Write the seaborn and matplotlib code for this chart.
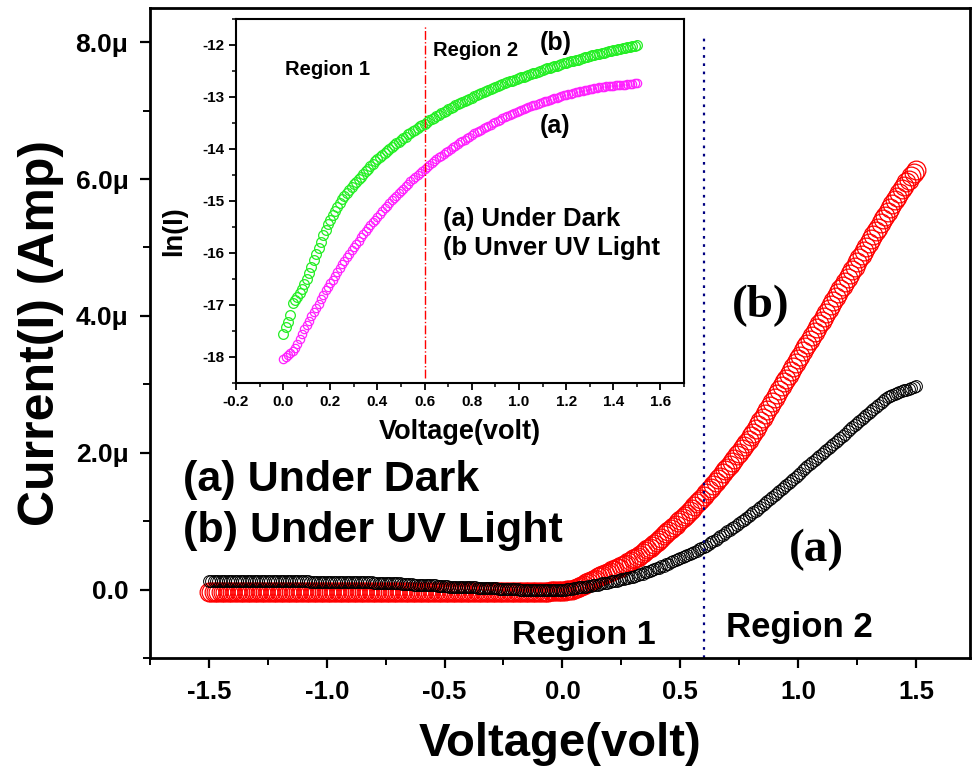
import numpy as np
import pandas as pd
import matplotlib
matplotlib.use("Agg")
import matplotlib.pyplot as plt
from matplotlib.ticker import MultipleLocator, FuncFormatter
import seaborn as sns

# ---------------- data ----------------
# main I-V sweep (volt), step 0.01 V from -1.5 to 1.5
voltage_main = np.round(np.linspace(-1.5, 1.5, 301), 2)

# (a) Under Dark, current in microamp
current_dark_uA = [
    # -1.50 .. 0.00
    0.12, 0.12, 0.12, 0.12, 0.12, 0.12, 0.12, 0.12, 0.12, 0.12,
    0.12, 0.12, 0.12, 0.12, 0.12, 0.12, 0.12, 0.12, 0.12, 0.12,
    0.12, 0.12, 0.12, 0.12, 0.12, 0.12, 0.12, 0.12, 0.12, 0.12,
    0.12, 0.12, 0.12, 0.12, 0.12, 0.12, 0.12, 0.12, 0.12, 0.12,
    0.12, 0.12, 0.12,
    0.11, 0.11, 0.11, 0.11, 0.11, 0.11, 0.11, 0.11, 0.11, 0.11,
    0.11, 0.11, 0.11, 0.11, 0.11, 0.11, 0.11, 0.11, 0.11, 0.11,
    0.11, 0.11, 0.11, 0.11, 0.11, 0.11, 0.11,
    0.10, 0.10, 0.10, 0.10, 0.10, 0.10, 0.10,
    0.09, 0.09, 0.09, 0.09, 0.09,
    0.08, 0.08, 0.08, 0.08, 0.08,
    0.07, 0.07, 0.07, 0.07, 0.07,
    0.06, 0.06, 0.06, 0.06, 0.06,
    0.05, 0.05, 0.05, 0.05, 0.05,
    0.04, 0.04, 0.04, 0.04, 0.04,
    0.03, 0.03, 0.03, 0.03, 0.03, 0.03, 0.03,
    0.02, 0.02, 0.02, 0.02, 0.02, 0.02, 0.02, 0.02, 0.02,
    0.01, 0.01, 0.01, 0.01, 0.01, 0.01, 0.01, 0.01, 0.01,
    0.00, 0.00, 0.00, 0.00, 0.00, 0.00, 0.00, 0.00, 0.00, 0.00,
    0.00, 0.00, 0.00, 0.00, 0.00, 0.00, 0.00, 0.00, 0.00,
    # 0.01 .. 1.50
    0.00, 0.01, 0.01, 0.01, 0.02, 0.02, 0.03, 0.03, 0.04, 0.04,
    0.05, 0.05, 0.06, 0.07, 0.07, 0.08, 0.09, 0.09, 0.10, 0.11,
    0.12, 0.12, 0.13, 0.14, 0.15, 0.16, 0.17, 0.17, 0.18, 0.19,
    0.20, 0.21, 0.22, 0.23, 0.25, 0.26, 0.27, 0.28, 0.30, 0.31,
    0.32, 0.34, 0.35, 0.37, 0.38, 0.40, 0.41, 0.43, 0.44, 0.46,
    0.47, 0.49, 0.50, 0.52, 0.54, 0.55, 0.57, 0.59, 0.60, 0.62,
    0.64, 0.66, 0.69, 0.71, 0.73, 0.75, 0.78, 0.80, 0.83, 0.85,
    0.87, 0.90, 0.92, 0.95, 0.97, 1.00, 1.02, 1.05, 1.07, 1.10,
    1.13, 1.15, 1.18, 1.21, 1.24, 1.27, 1.29, 1.32, 1.35, 1.38,
    1.41, 1.44, 1.47, 1.50, 1.53, 1.56, 1.59, 1.62, 1.65, 1.68,
    1.71, 1.74, 1.77, 1.80, 1.83, 1.86, 1.89, 1.92, 1.95, 1.98,
    2.01, 2.04, 2.07, 2.10, 2.13, 2.16, 2.19, 2.22, 2.25, 2.28,
    2.31, 2.34, 2.37, 2.40, 2.43, 2.46, 2.49, 2.52, 2.55, 2.58,
    2.61, 2.64, 2.67, 2.70, 2.73, 2.76, 2.79, 2.81, 2.83, 2.84,
    2.86, 2.87, 2.88, 2.90, 2.91, 2.92, 2.93, 2.95, 2.96, 2.97,
]

# (b) Under UV Light, current in microamp
current_uv_uA = [
    # -1.50 .. 0.00
    -0.03, -0.03, -0.03, -0.03, -0.03, -0.03, -0.03, -0.03, -0.03, -0.03,
    -0.03, -0.03, -0.03, -0.03, -0.03, -0.03, -0.03, -0.03, -0.03, -0.03,
    -0.03, -0.03, -0.03, -0.03, -0.03, -0.03, -0.03, -0.03, -0.03, -0.03,
    -0.03, -0.03, -0.03, -0.03, -0.03, -0.03, -0.03, -0.03, -0.03, -0.03,
    -0.03, -0.03, -0.03, -0.03, -0.03, -0.03, -0.03, -0.03, -0.03, -0.03,
    -0.03, -0.03, -0.03, -0.03, -0.03, -0.03, -0.03, -0.03, -0.03, -0.03,
    -0.03, -0.03, -0.03, -0.03, -0.03, -0.03, -0.03, -0.03, -0.03, -0.03,
    -0.03, -0.03, -0.03, -0.03, -0.03, -0.03, -0.03, -0.03, -0.03, -0.03,
    -0.03, -0.03, -0.03, -0.03, -0.03, -0.03, -0.03, -0.03, -0.03, -0.03,
    -0.03, -0.03, -0.03, -0.03, -0.03, -0.03, -0.03, -0.03, -0.03, -0.03,
    -0.03, -0.03, -0.03, -0.03, -0.03, -0.03, -0.03, -0.03, -0.03, -0.03,
    -0.03, -0.03, -0.03, -0.03, -0.03, -0.03, -0.03, -0.03, -0.03, -0.03,
    -0.03, -0.03, -0.03, -0.03, -0.03, -0.03, -0.03, -0.03, -0.03, -0.03,
    -0.03, -0.03, -0.03, -0.03, -0.03, -0.03, -0.03, -0.03, -0.03, -0.03,
    -0.03, -0.03, -0.03, -0.03, -0.03, -0.02, -0.02, -0.02, -0.02, -0.02,
    -0.02,
    # 0.01 .. 1.50
    -0.02, -0.01, -0.01, 0.00, 0.01, 0.02, 0.04, 0.05, 0.07, 0.09,
    0.11, 0.13, 0.14, 0.16, 0.18, 0.20, 0.21, 0.23, 0.24, 0.26,
    0.28, 0.29, 0.31, 0.32, 0.34, 0.36, 0.38, 0.40, 0.42, 0.44,
    0.46, 0.48, 0.51, 0.53, 0.56, 0.59, 0.61, 0.64, 0.67, 0.70,
    0.73, 0.76, 0.79, 0.82, 0.85, 0.88, 0.91, 0.94, 0.98, 1.01,
    1.04, 1.08, 1.11, 1.15, 1.18, 1.22, 1.26, 1.29, 1.33, 1.37,
    1.41, 1.45, 1.49, 1.53, 1.57, 1.61, 1.65, 1.70, 1.74, 1.78,
    1.82, 1.87, 1.91, 1.96, 2.00, 2.05, 2.10, 2.14, 2.19, 2.24,
    2.29, 2.35, 2.40, 2.46, 2.51, 2.57, 2.63, 2.68, 2.74, 2.80,
    2.86, 2.91, 2.97, 3.03, 3.08, 3.14, 3.20, 3.25, 3.31, 3.37,
    3.42, 3.48, 3.54, 3.59, 3.65, 3.71, 3.76, 3.82, 3.88, 3.93,
    3.99, 4.04, 4.10, 4.16, 4.21, 4.27, 4.33, 4.39, 4.44, 4.50,
    4.56, 4.61, 4.67, 4.72, 4.78, 4.84, 4.89, 4.95, 5.01, 5.07,
    5.12, 5.18, 5.24, 5.29, 5.35, 5.41, 5.46, 5.52, 5.57, 5.63,
    5.69, 5.74, 5.80, 5.85, 5.90, 5.95, 5.99, 6.04, 6.09, 6.13,
]

# inset: ln(I) vs voltage, 0 .. 1.5 V step 0.01 V
voltage_inset = np.round(np.linspace(0.0, 1.5, 151), 2)

ln_i_uv = [
    -17.55, -17.42, -17.32, -17.20, -16.97, -16.90, -16.84, -16.77, -16.70, -16.60,
    -16.50, -16.38, -16.26, -16.14, -16.02, -15.90, -15.78, -15.66, -15.55, -15.45,
    -15.36, -15.27, -15.19, -15.11, -15.04, -14.97, -14.91, -14.85, -14.79, -14.73,
    -14.68, -14.63, -14.58, -14.53, -14.48, -14.43, -14.38, -14.33, -14.29, -14.24,
    -14.20, -14.16, -14.12, -14.08, -14.04, -14.00, -13.96, -13.93, -13.89, -13.86,
    -13.82, -13.79, -13.76, -13.72, -13.69, -13.66, -13.63, -13.60, -13.56, -13.54,
    -13.51, -13.48, -13.45, -13.42, -13.40, -13.37, -13.34, -13.31, -13.29, -13.26,
    -13.24, -13.21, -13.19, -13.16, -13.14, -13.12, -13.09, -13.07, -13.05, -13.03,
    -13.01, -12.99, -12.97, -12.95, -12.93, -12.91, -12.89, -12.87, -12.85, -12.83,
    -12.81, -12.79, -12.77, -12.75, -12.74, -12.72, -12.70, -12.69, -12.67, -12.66,
    -12.64, -12.62, -12.61, -12.59, -12.58, -12.56, -12.54, -12.53, -12.51, -12.50,
    -12.48, -12.47, -12.45, -12.44, -12.42, -12.41, -12.40, -12.38, -12.37, -12.35,
    -12.34, -12.33, -12.31, -12.30, -12.29, -12.28, -12.26, -12.25, -12.24, -12.23,
    -12.22, -12.20, -12.19, -12.18, -12.17, -12.16, -12.15, -12.14, -12.12, -12.11,
    -12.10, -12.09, -12.08, -12.07, -12.06, -12.05, -12.04, -12.03, -12.02, -12.01,
    -12.00,
]

ln_i_dark = [
    -18.03, -18.00, -17.97, -17.93, -17.89, -17.83, -17.75, -17.66, -17.56, -17.47,
    -17.38, -17.30, -17.22, -17.14, -17.06, -16.98, -16.89, -16.80, -16.72, -16.65,
    -16.58, -16.51, -16.44, -16.36, -16.29, -16.22, -16.15, -16.08, -16.02, -15.95,
    -15.88, -15.82, -15.76, -15.70, -15.64, -15.58, -15.52, -15.47, -15.41, -15.36,
    -15.30, -15.25, -15.20, -15.14, -15.09, -15.04, -14.99, -14.94, -14.90, -14.85,
    -14.80, -14.76, -14.71, -14.67, -14.62, -14.58, -14.54, -14.50, -14.46, -14.42,
    -14.38, -14.34, -14.31, -14.27, -14.23, -14.20, -14.16, -14.13, -14.10, -14.06,
    -14.03, -14.00, -13.97, -13.94, -13.90, -13.87, -13.85, -13.82, -13.79, -13.76,
    -13.73, -13.70, -13.68, -13.65, -13.63, -13.60, -13.58, -13.55, -13.53, -13.50,
    -13.48, -13.46, -13.44, -13.41, -13.39, -13.37, -13.35, -13.33, -13.31, -13.29,
    -13.27, -13.25, -13.23, -13.21, -13.20, -13.18, -13.16, -13.15, -13.13, -13.11,
    -13.10, -13.08, -13.07, -13.05, -13.04, -13.02, -13.01, -13.00, -12.98, -12.97,
    -12.96, -12.95, -12.94, -12.92, -12.91, -12.90, -12.89, -12.88, -12.87, -12.86,
    -12.85, -12.84, -12.83, -12.82, -12.81, -12.81, -12.80, -12.79, -12.79, -12.78,
    -12.78, -12.77, -12.77, -12.76, -12.76, -12.76, -12.75, -12.75, -12.75, -12.74,
    -12.74,
]

df_main = pd.DataFrame({
    "V": voltage_main,
    "dark": np.array(current_dark_uA) * 1e-6,
    "uv": np.array(current_uv_uA) * 1e-6,
})
df_inset = pd.DataFrame({"V": voltage_inset, "uv": ln_i_uv, "dark": ln_i_dark})

# ---------------- style ----------------
sns.set_style("ticks")
plt.rcParams["font.family"] = ["Liberation Sans", "DejaVu Sans"]
plt.rcParams["font.weight"] = "bold"
plt.rcParams["axes.labelweight"] = "bold"
for key in ["text.color", "axes.labelcolor", "xtick.color", "ytick.color",
            "axes.edgecolor", "xtick.labelcolor", "ytick.labelcolor"]:
    plt.rcParams[key] = "black"

fig = plt.figure(figsize=(9.74, 7.72), dpi=100)
ax = fig.add_axes([0.154, 0.1477, 0.842, 0.842])

sns.lineplot(data=df_main, x="V", y="uv", ax=ax, estimator=None, sort=False,
             linestyle="none", marker="o", markersize=13.5, markerfacecolor="none",
             markeredgecolor="#ff0000", markeredgewidth=0.9, color="#ff0000")
sns.lineplot(data=df_main, x="V", y="dark", ax=ax, estimator=None, sort=False,
             linestyle="none", marker="o", markersize=8.5, markerfacecolor="none",
             markeredgecolor="#000000", markeredgewidth=0.7, color="#000000")
ax.axvline(0.6, ymin=0.0, ymax=0.954, color="#000080", linestyle=(0, (1.2, 2.5)), lw=1.6)

ax.set_xlim(-1.75, 1.73)
ax.set_ylim(-1.0e-6, 8.5e-6)
ax.xaxis.set_major_locator(MultipleLocator(0.5))
ax.xaxis.set_minor_locator(MultipleLocator(0.25))
ax.yaxis.set_major_locator(MultipleLocator(2e-6))
ax.yaxis.set_minor_locator(MultipleLocator(1e-6))
ax.yaxis.set_major_formatter(FuncFormatter(
    lambda v, p: "0.0" if abs(v) < 1e-12 else f"{v*1e6:.1f}\u03bc"))
ax.xaxis.set_major_formatter(FuncFormatter(lambda v, p: f"{v:.1f}"))
ax.tick_params(axis="both", which="major", direction="out", length=7.5, width=1.6,
               top=False, right=False, colors="black")
ax.tick_params(axis="x", which="major", labelsize=18.5, pad=8)
ax.tick_params(axis="y", which="major", labelsize=19, pad=8)
ax.tick_params(axis="both", which="minor", direction="out", length=5, width=1.4,
               top=False, right=False, colors="black")
for lab in ax.get_xticklabels() + ax.get_yticklabels():
    lab.set_fontweight("bold")
for s in ax.spines.values():
    s.set_linewidth(2.0)
    s.set_color("black")
    s.set_visible(True)
ax.set_xlabel("Voltage(volt)", fontsize=34, fontweight="bold", labelpad=13, color="black")
ax.set_ylabel("Current(I) (Amp)", fontsize=36, fontweight="bold", labelpad=8, color="black")

ax.text(-1.61, 1.44e-6, "(a) Under Dark", fontsize=31, fontweight="bold", va="baseline")
ax.text(-1.61, 0.69e-6, "(b) Under UV Light", fontsize=31, fontweight="bold", va="baseline")
ax.text(0.72, 3.98e-6, "(b)", fontsize=34, fontweight="bold", va="baseline",
        family=["Liberation Serif"])
ax.text(0.96, 0.41e-6, "(a)", fontsize=34, fontweight="bold", va="baseline",
        family=["Liberation Serif"])
ax.text(-0.216, -0.80e-6, "Region 1", fontsize=24.5, fontweight="bold", va="baseline")
ax.text(0.695, -0.70e-6, "Region 2", fontsize=25, fontweight="bold", va="baseline")

# ---------------- inset ----------------
axi = fig.add_axes([0.2423, 0.5039, 0.46, 0.4715])
sns.lineplot(data=df_inset, x="V", y="uv", ax=axi, estimator=None, sort=False,
             linestyle="none", marker="o", markersize=7, markerfacecolor="none",
             markeredgecolor="#22ee22", markeredgewidth=0.9, color="#22ee22")
sns.lineplot(data=df_inset, x="V", y="dark", ax=axi, estimator=None, sort=False,
             linestyle="none", marker="o", markersize=6, markerfacecolor="none",
             markeredgecolor="#ff22ff", markeredgewidth=0.9, color="#ff22ff")
axi.axvline(0.6, ymin=0.014, ymax=0.983, color="#ff0000", linestyle="-.", lw=1.0)
axi.set_xlim(-0.2, 1.7)
axi.set_ylim(-18.5, -11.5)
axi.xaxis.set_major_locator(MultipleLocator(0.2))
axi.xaxis.set_minor_locator(MultipleLocator(0.1))
axi.yaxis.set_major_locator(MultipleLocator(1))
axi.yaxis.set_minor_locator(MultipleLocator(0.5))
axi.xaxis.set_major_formatter(FuncFormatter(lambda v, p: f"{v:.1f}"))
axi.yaxis.set_major_formatter(FuncFormatter(lambda v, p: f"{v:.0f}"))
axi.tick_params(axis="both", which="major", direction="out", length=5, width=1.3,
                labelsize=11, top=False, right=False, colors="black")
axi.tick_params(axis="both", which="minor", direction="out", length=3, width=1.1,
                top=False, right=False, colors="black")
for lab in axi.get_xticklabels() + axi.get_yticklabels():
    lab.set_fontweight("bold")
for s in axi.spines.values():
    s.set_linewidth(1.5)
    s.set_color("black")
    s.set_visible(True)
axi.set_xlabel("Voltage(volt)", fontsize=19.5, fontweight="bold", labelpad=7, color="black")
axi.set_ylabel("ln(I)", fontsize=19.5, fontweight="bold", color="black")
axi.yaxis.set_label_coords(-0.108, 0.418)

axi.text(0.008, -12.57, "Region 1", fontsize=14.5, fontweight="bold", va="baseline")
axi.text(0.635, -12.21, "Region 2", fontsize=14.5, fontweight="bold", va="baseline")
axi.text(1.09, -12.1, "(b)", fontsize=18, fontweight="bold", va="baseline")
axi.text(1.09, -13.7, "(a)", fontsize=18, fontweight="bold", va="baseline")
axi.text(0.677, -15.48, "(a) Under Dark", fontsize=18.5, fontweight="bold", va="baseline")
axi.text(0.677, -16.03, "(b Unver UV Light", fontsize=18.5, fontweight="bold", va="baseline")

fig.savefig("out.png", dpi=100)
